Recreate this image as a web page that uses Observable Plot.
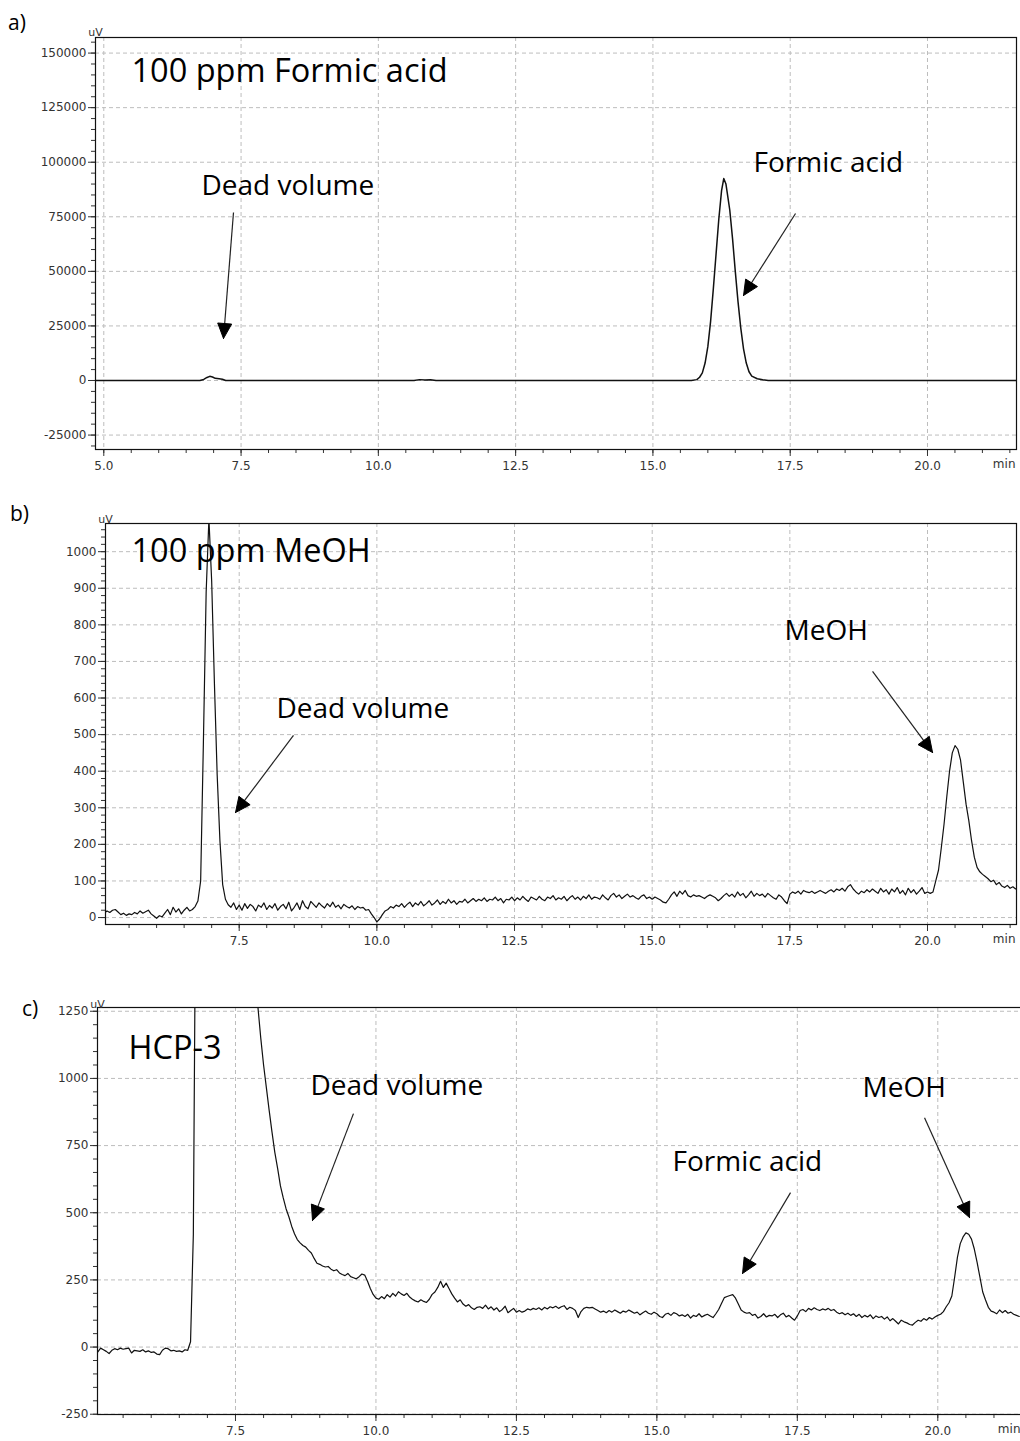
<!DOCTYPE html>
<html><head><meta charset="utf-8">
<script src="https://cdn.jsdelivr.net/npm/d3@7"></script>
<script src="https://cdn.jsdelivr.net/npm/@observablehq/plot@0.6"></script>
<style>
html,body{margin:0;padding:0;background:#fff;overflow:hidden}
#page{position:relative;width:1020px;height:1441px;overflow:hidden}
.panel{position:absolute;left:0}
.panel svg{max-width:none!important}
.tag{position:absolute;font-family:"Open Sans";font-size:21px;line-height:1;color:#000}
</style></head><body><div id="page"></div>
<script>
// ---------- panel a: 100 ppm Formic acid (time [min], signal [uV]) ----------
const aTime = [4.849, 6.75, 6.82, 6.88, 6.93, 6.98, 7.03, 7.10, 7.16, 7.22,
  10.65, 10.75, 10.85, 10.95, 11.05,
  15.70, 15.80, 15.85, 15.90, 15.95, 16.00, 16.05, 16.10, 16.15, 16.20, 16.25, 16.29, 16.33,
  16.40, 16.45, 16.50, 16.55, 16.60, 16.65, 16.70, 16.75, 16.80, 16.90, 17.00, 17.10, 21.621];
const aUV = [0, 0, 500, 1400, 1900, 1600, 1000, 800, 600, 0,
  0, 400, 200, 350, 0,
  0, 400, 1500, 3500, 8000, 15500, 27000, 42000, 58000, 74000, 87000, 92500, 90000,
  78000, 65000, 50000, 36000, 24000, 14500, 8000, 4000, 2000, 800, 300, 0, 0];

// ---------- panel b: 100 ppm MeOH, sampled every 0.05 min from 5.05 min ----------
const bStart = 5.05, bStep = 0.05;
const bUV = [
  12, 18, 14, 20, 22, 15, 8, 12, 6, 10,
  8, 14, 10, 18, 12, 16, 20, 10, 4, -2,
  5, 2, 12, 22, 8, 28, 15, 24, 10, 20,
  28, 18, 22, 30, 45, 100, 480, 890, 1090, 920,
  640, 390, 210, 90, 50, 35, 28, 40, 22, 34,
  20, 38, 25, 36, 30, 18, 34, 28, 40, 22,
  33, 26, 38, 20, 30, 36, 24, 42, 18, 28,
  40, 22, 46, 30, 24, 44, 36, 28, 40, 32,
  26, 38, 30, 42, 28, 34, 24, 36, 30, 26,
  32, 22, 30, 26, 28, 20, 22, 10, 0, -12,
  -4, 8, 18, 22, 30, 26, 34, 30, 38, 28,
  36, 42, 30, 40, 34, 44, 32, 38, 46, 34,
  40, 48, 36, 44, 38, 50, 40, 46, 36, 44,
  42, 50, 40, 46, 52, 44, 50, 46, 54, 44,
  50, 48, 56, 46, 52, 40, 50, 48, 56, 46,
  54, 48, 58, 50, 44, 56, 52, 48, 58, 50,
  46, 56, 52, 60, 48, 54, 50, 58, 46, 54,
  60, 50, 56, 48, 58, 52, 62, 50, 56, 54,
  50, 62, 54, 48, 60, 66, 56, 62, 52, 58,
  64, 56, 60, 54, 50, 58, 62, 52, 56, 50,
  56, 52, 48, 42, 40, 50, 62, 70, 58, 72,
  64, 74, 60, 56, 62, 58, 60, 56, 52, 58,
  62, 58, 54, 46, 52, 60, 66, 58, 64, 56,
  70, 60, 66, 54, 62, 72, 58, 66, 60, 64,
  56, 66, 60, 54, 50, 62, 56, 46, 38, 64,
  70, 66, 72, 64, 74, 70, 68, 72, 66, 70,
  74, 70, 66, 72, 76, 70, 78, 74, 80, 72,
  84, 90, 78, 70, 64, 72, 68, 76, 70, 78,
  72, 66, 80, 70, 76, 64, 78, 70, 82, 66,
  74, 62, 80, 68, 76, 64, 72, 82, 66, 70,
  66, 70, 100, 130, 190, 255, 330, 400, 450, 470,
  460, 430, 370, 310, 265, 210, 165, 137, 125, 118,
  112, 106, 98, 102, 90, 96, 86, 82, 88, 80,
  84, 78, 82];

// ---------- panel c: HCP-3, sampled every 0.05 min from 5.05 min ----------
const cStart = 5.05, cStep = 0.05;
const cUV = [
  -18, -4, -10, -16, -24, -12, -6, -10, -4, -8,
  -6, -4, -22, -12, -14, -16, -10, -18, -14, -20,
  -18, -26, -28, -12, -4, -6, -14, -12, -16, -14,
  -18, -10, -12, 20, 420, 2000, 3500, 4800, 5600, 6000,
  6200, 6100, 5800, 5400, 5000, 4500, 4000, 3600, 3200, 2900,
  2700, 2400, 2150, 1950, 1750, 1560, 1400, 1264, 1150, 1050,
  965, 880, 800, 725, 665, 600, 555, 515, 485, 450,
  422, 400, 388, 378, 372, 360, 350, 330, 312, 308,
  302, 298, 300, 290, 284, 288, 276, 270, 266, 274,
  262, 258, 254, 262, 272, 268, 245, 218, 196, 182,
  178, 188, 180, 195, 186, 200, 190, 206, 198, 192,
  200, 186, 178, 172, 168, 176, 170, 166, 178, 196,
  205, 222, 245, 222, 238, 218, 198, 182, 168, 176,
  160, 152, 158, 146, 140, 148, 150, 144, 156, 142,
  150, 138, 146, 132, 140, 152, 128, 136, 144, 130,
  136, 130, 134, 142, 138, 144, 140, 146, 138, 148,
  142, 150, 146, 152, 144, 150, 154, 140, 148, 144,
  136, 110, 132, 144, 148, 146, 148, 142, 136, 130,
  134, 128, 136, 130, 138, 132, 126, 134, 130, 138,
  132, 126, 130, 120, 128, 134, 126, 122, 130, 124,
  114, 110, 122, 126, 118, 128, 124, 116, 120, 114,
  122, 108, 118, 114, 124, 112, 118, 122, 116, 110,
  124, 140, 162, 184, 188, 192, 195, 182, 160, 138,
  130, 126, 128, 118, 122, 108, 114, 124, 112, 118,
  116, 122, 110, 120, 126, 112, 118, 108, 100, 116,
  136, 140, 132, 144, 138, 146, 140, 136, 142, 138,
  144, 136, 140, 130, 124, 128, 120, 126, 118, 124,
  114, 122, 110, 118, 112, 120, 106, 116, 110, 114,
  104, 112, 98, 106, 96, 86, 100, 94, 90, 84,
  82, 92, 100, 96, 106, 100, 110, 104, 112, 118,
  122, 132, 150, 165, 190, 260, 335, 385, 410, 425,
  420, 402, 365, 315, 260, 205, 175, 148, 134, 130,
  124, 138, 128, 136, 126, 130, 122, 118, 114];

// ---------- tick labels ----------
const aXTicks = [5.0, 7.5, 10.0, 12.5, 15.0, 17.5, 20.0];
const aYTicks = [-25000, 0, 25000, 50000, 75000, 100000, 125000, 150000];
const bXTicks = [7.5, 10.0, 12.5, 15.0, 17.5, 20.0];
const bYTicks = [0, 100, 200, 300, 400, 500, 600, 700, 800, 900, 1000];
const cXTicks = [7.5, 10.0, 12.5, 15.0, 17.5, 20.0];
const cYTicks = [-250, 0, 250, 500, 750, 1000, 1250];

// ---------- annotations (data coordinates) ----------
const aTitles = [{label: "100 ppm Formic acid", t: 5.504, v: 141561, big: true},
  {label: "Dead volume", t: 6.779, v: 88877}, {label: "Formic acid", t: 16.832, v: 99414}];
const aArrows = [{t1: 7.362, v1: 76966, t2: 7.180, v2: 19241}, {t1: 17.597, v1: 76508, t2: 16.650, v2: 38940}];
const bTitles = [{label: "100 ppm MeOH", t: 5.544, v: 1000, big: true},
  {label: "Dead volume", t: 8.177, v: 571}, {label: "MeOH", t: 17.404, v: 782}];
const bArrows = [{t1: 8.486, v1: 498, t2: 7.433, v2: 287}, {t1: 19.002, v1: 673, t2: 20.092, v2: 451}];
const cTitles = [{label: "HCP-3", t: 5.595, v: 1111, big: true},
  {label: "Dead volume", t: 8.835, v: 973}, {label: "Formic acid", t: 15.279, v: 687}, {label: "MeOH", t: 18.661, v: 966}];
const cArrows = [{t1: 9.600, v1: 869, t2: 8.871, v2: 471}, {t1: 17.379, v1: 575, t2: 16.525, v2: 274},
  {t1: 19.764, v1: 854, t2: 20.565, v2: 482}];

const gridStep = (lo, hi, s) => d3.range(Math.ceil(lo / s - 1e-9) * s, hi + 1e-9, s).map(d => +d.toFixed(4));

const panels = [
  {tag: "a)", tagX: 8, tagY: 12, top: 0, width: 1020, height: 482, ml: 95, mr: 4, mt: 37, mb: 33,
   x: [4.849, 21.621], y: [-31611, 157138], xt: aXTicks, yt: aYTicks, xMinor: 0.5, yMinor: 5000,
   series: aTime.map((t, i) => ({t, v: aUV[i]})), sw: 1.5, titles: aTitles, arrows: aArrows, uvDy: -9},
  {tag: "b)", tagX: 10, tagY: 503, top: 490, width: 1020, height: 465, ml: 105, mr: 4, mt: 33, mb: 31,
   x: [5.072, 21.616], y: [-19, 1077], xt: bXTicks, yt: bYTicks, xMinor: 0.5, yMinor: 20,
   series: bUV.map((v, i) => ({t: +(bStart + bStep * i).toFixed(2), v})), sw: 1.2, titles: bTitles, arrows: bArrows, uvDy: -8},
  {tag: "c)", tagX: 22, tagY: 998, top: 975, width: 1021, height: 466, ml: 97, mr: 0, mt: 32, mb: 27,
   x: [5.044, 21.49], y: [-251, 1264], xt: cXTicks, yt: cYTicks, xMinor: 0.5, yMinor: 50,
   series: cUV.map((v, i) => ({t: +(cStart + cStep * i).toFixed(2), v})), sw: 1.2, titles: cTitles, arrows: cArrows, uvDy: -7}
];

function arrowParts(p, arrows) {
  const kx = (p.width - p.ml - p.mr) / (p.x[1] - p.x[0]);
  const ky = (p.height - p.mt - p.mb) / (p.y[1] - p.y[0]);
  const L = 15, W = 7;
  const shafts = [], heads = [];
  arrows.forEach((a, k) => {
    const dx = (a.t2 - a.t1) * kx, dy = -(a.v2 - a.v1) * ky;
    const len = Math.hypot(dx, dy), ux = dx / len, uy = dy / len;
    const bx = -ux * L, by = -uy * L;
    const toData = (ox, oy) => ({t: a.t2 + ox / kx, v: a.v2 - oy / ky, k});
    const base = toData(bx + ux * 2, by + uy * 2);
    shafts.push({t1: a.t1, v1: a.v1, t2: base.t, v2: base.v});
    heads.push(toData(0, 0), toData(bx - uy * W, by + ux * W), toData(bx + uy * W, by - ux * W), toData(0, 0));
  });
  return {shafts, heads};
}

const page = document.getElementById("page");
for (const p of panels) {
  const xMinor = gridStep(p.x[0], p.x[1], p.xMinor);
  const yMinor = gridStep(p.y[0], p.y[1], p.yMinor);
  const {shafts, heads} = arrowParts(p, p.arrows);
  const axisColor = "#333";
  const chart = Plot.plot({
    width: p.width, height: p.height,
    marginLeft: p.ml, marginRight: p.mr, marginTop: p.mt, marginBottom: p.mb,
    style: {fontFamily: "DejaVu Sans", fontSize: "12px", background: "#fff", overflow: "visible"},
    x: {domain: p.x},
    y: {domain: p.y},
    marks: [
      Plot.gridX(p.xt, {stroke: "#bdbdbd", strokeOpacity: 1, strokeDasharray: "4,3"}),
      Plot.gridY(p.yt, {stroke: "#bdbdbd", strokeOpacity: 1, strokeDasharray: "4,3"}),
      Plot.line(p.series, {x: "t", y: "v", stroke: "#111", strokeWidth: p.sw, clip: true}),
      Plot.axisX(xMinor, {tickSize: 4, tickFormat: () => "", label: null, color: axisColor}),
      Plot.axisX(p.xt, {tickSize: 7, tickPadding: 5, tickFormat: d => d.toFixed(1), label: null, color: axisColor}),
      Plot.axisY(yMinor, {tickSize: 4, tickFormat: () => "", label: null, color: axisColor}),
      Plot.axisY(p.yt, {tickSize: 7, tickPadding: 2, tickFormat: d => String(d), label: null, color: axisColor}),
      Plot.frame({stroke: "#111", strokeWidth: 1.2}),
      Plot.text(["uV"], {frameAnchor: "top-left", dy: p.uvDy, textAnchor: "middle", fontSize: 11, fill: axisColor}),
      Plot.text(["min"], {frameAnchor: "bottom-right", dy: 18, dx: -1, textAnchor: "end", fontSize: 12, fill: axisColor}),
      Plot.link(shafts, {x1: "t1", y1: "v1", x2: "t2", y2: "v2", stroke: "#222", strokeWidth: 1.2}),
      Plot.line(heads, {x: "t", y: "v", z: "k", fill: "#000", stroke: "#000", strokeWidth: 1}),
      Plot.text(p.titles, {x: "t", y: "v", text: "label", textAnchor: "start", fontFamily: "Open Sans",
        fontSize: d => d.big ? 32.5 : 28, fill: "#000"})
    ]
  });
  const holder = document.createElement("div");
  holder.className = "panel";
  holder.style.top = p.top + "px";
  holder.appendChild(chart);
  page.appendChild(holder);
  const tag = document.createElement("div");
  tag.className = "tag";
  tag.textContent = p.tag;
  tag.style.left = p.tagX + "px";
  tag.style.top = p.tagY + "px";
  page.appendChild(tag);
}
</script></body></html>
